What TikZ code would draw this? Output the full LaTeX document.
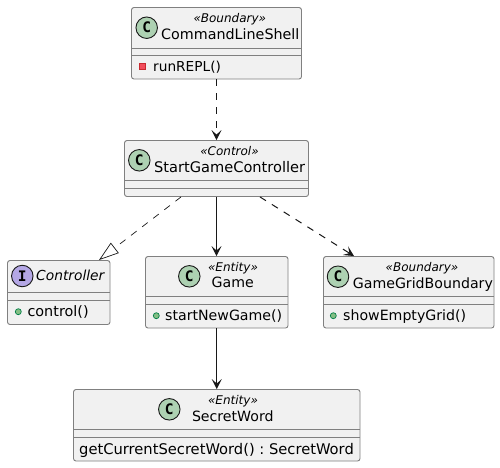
\documentclass[tikz,border=0pt]{standalone}
\usepackage{fontspec}
\setmainfont{DejaVu Sans}
\newfontfamily\circfont{DejaVu Sans Mono}
\usetikzlibrary{arrows.meta}
\definecolor{boxfill}{HTML}{F1F1F1}
\definecolor{ink}{HTML}{181818}
\definecolor{edge}{HTML}{808080}
\definecolor{cgreen}{HTML}{ADD1B2}
\definecolor{ipurple}{HTML}{B4A7E5}
\frenchspacing
\newcommand{\sz}[1]{\fontsize{#1}{16}\selectfont}
\tikzset{
  umlbox/.style={draw=edge,line width=0.9pt,fill=boxfill,rounded corners=2.5pt,inner sep=0pt},
  sepline/.style={draw=edge,line width=0.9pt},
  badge/.style={circle,draw=ink,line width=0.9pt,minimum size=21.5pt,inner sep=0pt,font=\circfont\bfseries\fontsize{14.5}{15}\selectfont},
  stereo/.style={anchor=base,inner sep=0pt,font=\itshape\fontsize{12}{14}\selectfont},
  nametext/.style={anchor=base,inner sep=0pt,font=\sz{14.15}},
  nameleft/.style={nametext,anchor=base west},
  pubdot/.style={circle,draw={rgb,255:red,3;green,128;blue,72},fill={rgb,255:red,132;green,190;blue,132},line width=0.7pt,minimum size=6pt,inner sep=0pt},
  privsq/.style={rectangle,draw={rgb,255:red,200;green,41;blue,48},fill={rgb,255:red,242;green,77;blue,92},line width=0.7pt,minimum size=6pt,inner sep=0pt},
  assoc/.style={draw=ink,line width=1pt,-{Stealth[length=10pt,width=10pt,inset=4.5pt]}},
  dep/.style={assoc,dash pattern=on 7pt off 7pt},
  realize/.style={draw=ink,line width=0.7pt,dash pattern=on 7pt off 7pt,-{Triangle[open,length=20pt,width=13pt,line width=0.7pt]}},
}
\begin{document}
\begin{tikzpicture}[x=1pt,y=-1pt]
\useasboundingbox[fill=white] (0,0) rectangle (500,467);
% boxes
\node[umlbox,minimum width=170pt,minimum height=71.5pt] (shell) at (216.5,43.25) {};
\node[umlbox,minimum width=184pt,minimum height=56pt] (ctrl) at (216.5,168.5) {};
\node[umlbox,minimum width=102.5pt,minimum height=64pt] (iface) at (58.75,292.5) {};
\node[umlbox,minimum width=142.5pt,minimum height=71.5pt] (game) at (216.75,292.25) {};
\node[umlbox,minimum width=170.5pt,minimum height=71.5pt] (grid) at (408.75,292.25) {};
\node[umlbox,minimum width=286.5pt,minimum height=71.5pt] (word) at (216.75,425.25) {};
% compartments
\draw[sepline] (shell.west |- 0,48) -- (shell.east |- 0,48);
\draw[sepline] (shell.west |- 0,55.5) -- (shell.east |- 0,55.5);
\draw[sepline] (ctrl.west |- 0,180.5) -- (ctrl.east |- 0,180.5);
\draw[sepline] (ctrl.west |- 0,188.2) -- (ctrl.east |- 0,188.2);
\draw[sepline] (iface.west |- 0,292.5) -- (iface.east |- 0,292.5);
\draw[sepline] (iface.west |- 0,300) -- (iface.east |- 0,300);
\draw[sepline] (game.west |- 0,296.7) -- (game.east |- 0,296.7);
\draw[sepline] (game.west |- 0,304.3) -- (game.east |- 0,304.3);
\draw[sepline] (grid.west |- 0,296.7) -- (grid.east |- 0,296.7);
\draw[sepline] (grid.west |- 0,304.3) -- (grid.east |- 0,304.3);
\draw[sepline] (word.west |- 0,429.3) -- (word.east |- 0,429.3);
\draw[sepline] (word.west |- 0,437) -- (word.east |- 0,437);
% badges
\node[badge,fill=cgreen] (bshell) at (146.7,27.7) {C};
\node[badge,fill=cgreen] (bctrl) at (139.3,160.3) {C};
\node[badge,fill=ipurple] (biface) at (22.3,276) {I};
\node[badge,fill=cgreen] (bgame) at (189.3,276.3) {C};
\node[badge,fill=cgreen] (bgrid) at (338,276.7) {C};
\node[badge,fill=cgreen] (bword) at (169.3,409.3) {C};
% texts
\node[stereo] (sshell) at (229.8,22.7) {«Boundary»};
\node[nameleft,font=\sz{14.3}] (nshell) at (161,39.3) {CommandLineShell};
\node[privsq] (mshellicon) at (142.5,66) {};
\node[nameleft,font=\sz{13.7}] (mshell) at (153,71) {runREPL()};
\node[stereo] (sctrl) at (229.5,155.7) {«Control»};
\node[nameleft,font=\sz{14.6}] (nctrl) at (154,172) {StartGameController};
\node[nameleft,font=\itshape\sz{13.8}] (niface) at (36,280.7) {Controller};
\node[pubdot] (mifaceicon) at (18.3,311.7) {};
\node[nameleft,font=\sz{14.4}] (miface) at (27.3,316.7) {control()};
\node[stereo] (sgame) at (233,271.7) {«Entity»};
\node[nametext] (ngame) at (232.8,287.7) {Game};
\node[pubdot] (mgameicon) at (156.3,315.7) {};
\node[nameleft] (mgame) at (165,320.7) {startNewGame()};
\node[stereo] (sgrid) at (422,271.3) {«Boundary»};
\node[nameleft] (ngrid) at (352.7,288) {GameGridBoundary};
\node[pubdot] (mgridicon) at (333.3,315.7) {};
\node[nameleft] (mgrid) at (343,320.7) {showEmptyGrid()};
\node[stereo] (sword) at (233,404.7) {«Entity»};
\node[nametext] (nword) at (232.8,421) {SecretWord};
\node[nameleft,font=\sz{14.7}] (mword) at (79,454.3) {getCurrentSecretWord() : SecretWord};
% connectors
\draw[dep] (shell.south) -- (ctrl.north);
\draw[assoc] (ctrl.south) -- (game.north -| ctrl.south);
\draw[assoc] (game.south -| word.north) -- (word.north);
\draw[realize] ([xshift=-35.5pt]ctrl.south) -- ([xshift=40.25pt]iface.north);
\draw[dep] ([xshift=43.5pt]ctrl.south) -- ([xshift=-54.75pt]grid.north);
\end{tikzpicture}
\end{document}
